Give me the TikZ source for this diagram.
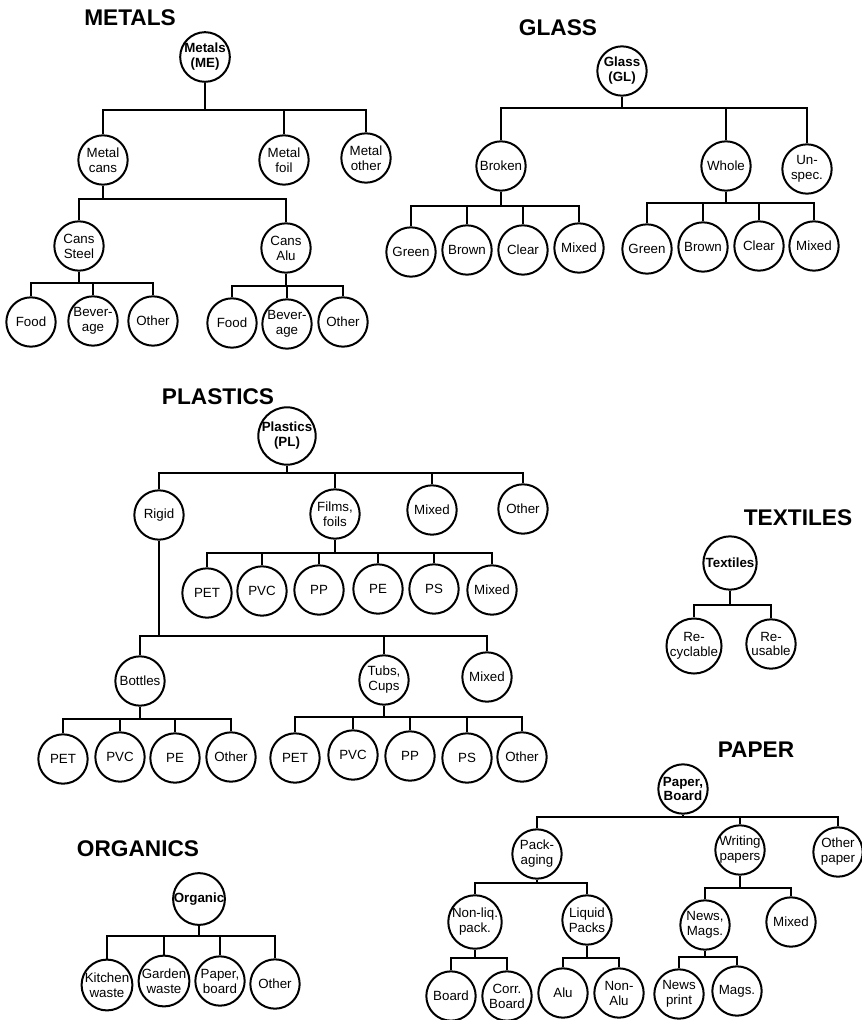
\documentclass[tikz,border=0pt]{standalone}
\usepackage{fontspec}
\setmainfont{Liberation Sans}
\begin{document}
\begin{tikzpicture}[x=0.75pt,y=-0.75pt,
  cat/.style={circle,draw,line width=1.5pt,minimum size=37pt,inner sep=0pt,
              align=center,font=\fontsize{10}{11.2}\selectfont},
  rootcat/.style={cat,font=\bfseries\fontsize{10}{11.2}\selectfont},
  big/.style={minimum size=40pt},
  heading/.style={font=\bfseries\fontsize{17}{18}\selectfont},
  conn/.style={line width=1.5pt}]
\useasboundingbox (0,0) rectangle (862,1020);

% parent -> horizontal bus at the given y -> each child
\newcommand\branch[3]{%
  \draw[conn] (#1) -- (#1 |- 0,#2);
  \foreach \c in {#3} \draw[conn] (#1 |- 0,#2) -| (\c);
}

% ---------------- METALS ----------------
\node[heading] (tme) at (130,18) {METALS};
\node[rootcat] (me) at (205,57) {Metals\\(ME)};
\node[cat] (mcans) at (103,160) {Metal\\cans};
\node[cat] (mfoil) at (284,160) {Metal\\foil};
\node[cat] (mother) at (366,158) {Metal\\other};
\node[cat] (csteel) at (79,246) {Cans\\Steel};
\node[cat] (calu) at (286,248) {Cans\\Alu};
\node[cat] (sfood) at (31,322) {Food};
\node[cat] (sbev) at (93,321) {Bever-\\age};
\node[cat] (soth) at (153,321) {Other};
\node[cat] (afood) at (232,323) {Food};
\node[cat] (abev) at (287,324) {Bever-\\age};
\node[cat] (aoth) at (343,322) {Other};
\branch{me}{110}{mcans,mfoil,mother}
\branch{mcans}{199}{csteel,calu}
\branch{csteel}{283}{sfood,sbev,soth}
\branch{calu}{286}{afood,abev,aoth}

% ---------------- GLASS ----------------
\node[heading] (tgl) at (558,28) {GLASS};
\node[rootcat] (gl) at (622,71) {Glass\\(GL)};
\node[cat] (broken) at (501,166) {Broken};
\node[cat] (whole) at (726,166) {Whole};
\node[cat] (unspec) at (807,169) {Un-\\spec.};
\node[cat] (bgreen) at (411,252) {Green};
\node[cat] (bbrown) at (467,250) {Brown};
\node[cat] (bclear) at (523,250) {Clear};
\node[cat] (bmixed) at (579,248) {Mixed};
\node[cat] (wgreen) at (647,249) {Green};
\node[cat] (wbrown) at (703,247) {Brown};
\node[cat] (wclear) at (759,246) {Clear};
\node[cat] (wmixed) at (814,246) {Mixed};
\branch{gl}{108}{broken,whole,unspec}
\branch{broken}{206}{bgreen,bbrown,bclear,bmixed}
\branch{whole}{203}{wgreen,wbrown,wclear,wmixed}

% ---------------- PLASTICS ----------------
\node[heading] (tpl) at (218,397) {PLASTICS};
\node[rootcat] (pl) at (287,436) {Plastics\\(PL)};
\node[cat] (rigid) at (159,515) {Rigid};
\node[cat] (films) at (335,514) {Films,\\foils};
\node[cat] (pmixed) at (432,510) {Mixed};
\node[cat] (pother) at (523,509) {Other};
\node[cat] (fpet) at (207,593) {PET};
\node[cat] (fpvc) at (262,591) {PVC};
\node[cat] (fpp) at (319,590) {PP};
\node[cat] (fpe) at (378,589) {PE};
\node[cat] (fps) at (434,589) {PS};
\node[cat] (fmixed) at (492,590) {Mixed};
\node[cat] (bottles) at (140,681) {Bottles};
\node[cat] (tubs) at (384,680) {Tubs,\\Cups};
\node[cat] (rmixed) at (487,677) {Mixed};
\node[cat] (bpet) at (63,759) {PET};
\node[cat] (bpvc) at (120,757) {PVC};
\node[cat] (bpe) at (175,758) {PE};
\node[cat] (both) at (231,757) {Other};
\node[cat] (tpet) at (295,758) {PET};
\node[cat] (tpvc) at (353,755) {PVC};
\node[cat] (tpp) at (410,756) {PP};
\node[cat] (tps) at (467,758) {PS};
\node[cat] (toth) at (522,757) {Other};
\branch{pl}{473}{rigid,films,pmixed,pother}
\branch{films}{553}{fpet,fpvc,fpp,fpe,fps,fmixed}
\branch{rigid}{636}{bottles,tubs,rmixed}
\branch{bottles}{719}{bpet,bpvc,bpe,both}
\branch{tubs}{717}{tpet,tpvc,tpp,tps,toth}

% ---------------- TEXTILES ----------------
\node[heading] (ttx) at (798,518) {TEXTILES};
\node[rootcat,big] (tx) at (730,563) {Textiles};
\node[cat,big] (recy) at (694,646) {Re-\\cyclable};
\node[cat] (reus) at (771,644) {Re-\\usable};
\branch{tx}{605}{recy,reus}

% ---------------- ORGANICS ----------------
\node[heading] (tor) at (138,849) {ORGANICS};
\node[rootcat] (org) at (199,899) {Organic};
\node[cat] (kitchen) at (107,985) {Kitchen\\waste};
\node[cat] (garden) at (164,981) {Garden\\waste};
\node[cat] (opaper) at (220,981) {Paper,\\board};
\node[cat] (ooth) at (275,984) {Other};
\branch{org}{936}{kitchen,garden,opaper,ooth}

% ---------------- PAPER ----------------
\node[heading] (tpa) at (756,750) {PAPER};
\node[rootcat] (pb) at (683,789) {Paper,\\Board};
\node[cat] (pack) at (537,854) {Pack-\\aging};
\node[cat] (writing) at (740,850) {Writing\\papers};
\node[cat] (otherp) at (838,852) {Other\\paper};
\node[cat] (nonliq) at (475,922) {Non-liq.\\pack.};
\node[cat] (liquid) at (587,920) {Liquid\\Packs};
\node[cat] (news) at (705,925) {News,\\Mags.};
\node[cat] (wmix) at (791,922) {Mixed};
\node[cat] (board) at (451,996) {Board};
\node[cat] (corr) at (507,996) {Corr.\\Board};
\node[cat] (alu) at (563,993) {Alu};
\node[cat] (nonalu) at (619,993) {Non-\\Alu};
\node[cat] (newsprint) at (679,994) {News\\print};
\node[cat] (mags) at (737,991) {Mags.};
\branch{pb}{817}{pack,writing,otherp}
\branch{pack}{883}{nonliq,liquid}
\branch{writing}{888}{news,wmix}
\branch{nonliq}{958}{board,corr}
\branch{liquid}{958}{alu,nonalu}
\branch{news}{957}{newsprint,mags}
\end{tikzpicture}
\end{document}
